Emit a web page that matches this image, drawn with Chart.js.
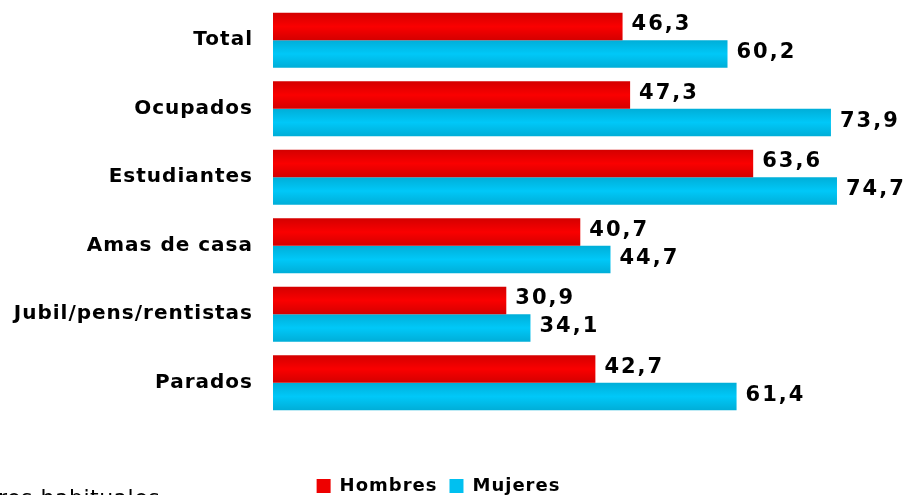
<!DOCTYPE html>
<html>
<head>
<meta charset="utf-8">
<script src="https://cdn.jsdelivr.net/npm/chart.js@4.4.1/dist/chart.umd.min.js"></script>
<style>
  html, body { margin: 0; padding: 0; background: #fff; }
  #wrap { width: 903px; height: 495px; position: relative; }
</style>
</head>
<body>
<div id="wrap"><canvas id="c" width="903" height="495"></canvas></div>
<script>
const categories = ['Total', 'Ocupados', 'Estudiantes', 'Amas de casa', 'Jubil/pens/rentistas', 'Parados'];
const hombres = [46.3, 47.3, 63.6, 40.7, 30.9, 42.7];
const mujeres = [60.2, 73.9, 74.7, 44.7, 34.1, 61.4];
const seriesNames = ['Hombres', 'Mujeres'];
const footText = 'res habituales';

const FONT = "'Comic Sans MS', 'DejaVu Sans', sans-serif";

const gradStops = [
  ['#D40000', '#FA0000', '#D40000'],
  ['#00AED8', '#00C8F8', '#00AED8']
];

const spacingPlugin = {
  id: 'spacing',
  beforeInit(chart) { chart.ctx.letterSpacing = '1px'; },
  beforeUpdate(chart) { chart.ctx.letterSpacing = '1px'; },
  beforeDraw(chart) { chart.ctx.letterSpacing = '1px'; }
};

const gradientPlugin = {
  id: 'barGradient',
  beforeDatasetsDraw(chart) {
    const ctx = chart.ctx;
    chart.data.datasets.forEach((ds, di) => {
      const meta = chart.getDatasetMeta(di);
      meta.data.forEach(el => {
        const top = el.y - el.height / 2;
        const bot = el.y + el.height / 2;
        const g = ctx.createLinearGradient(0, top, 0, bot);
        const s = gradStops[di];
        g.addColorStop(0, s[0]);
        g.addColorStop(0.5, s[1]);
        g.addColorStop(1, s[2]);
        el.options = Object.assign({}, el.options, { backgroundColor: g });
      });
    });
  }
};

const labelPlugin = {
  id: 'valueLabels',
  afterDatasetsDraw(chart) {
    const ctx = chart.ctx;
    ctx.save();
    ctx.letterSpacing = '2px';
    ctx.font = 'bold 21px ' + FONT;
    ctx.fillStyle = '#000';
    ctx.textAlign = 'left';
    ctx.textBaseline = 'middle';
    chart.data.datasets.forEach((ds, di) => {
      const meta = chart.getDatasetMeta(di);
      meta.data.forEach((el, i) => {
        const txt = ds.data[i].toFixed(1).replace('.', ',');
        ctx.fillText(txt, el.x + 9, el.y - (di === 0 ? 2 : 1));
      });
    });
    ctx.restore();
  }
};

const footPlugin = {
  id: 'footText',
  afterDraw(chart) {
    const ctx = chart.ctx;
    ctx.save();
    ctx.letterSpacing = '0.5px';
    ctx.font = '22px ' + FONT;
    ctx.fillStyle = '#000';
    ctx.textAlign = 'left';
    ctx.textBaseline = 'alphabetic';
    ctx.fillText(footText, -2, 505);
    ctx.restore();
  }
};

new Chart(document.getElementById('c'), {
  type: 'bar',
  data: {
    labels: categories,
    datasets: [
      { label: seriesNames[0], data: hombres, backgroundColor: '#EE0000', borderWidth: 0,
        categoryPercentage: 0.8, barPercentage: 1.0 },
      { label: seriesNames[1], data: mujeres, backgroundColor: '#00C0F0', borderWidth: 0,
        categoryPercentage: 0.8, barPercentage: 1.0 }
    ]
  },
  options: {
    indexAxis: 'y',
    responsive: false,
    animation: false,
    devicePixelRatio: 1,
    layout: { padding: { top: 6, right: 26, bottom: -10, left: 0 } },
    scales: {
      x: {
        display: true,
        min: 0,
        max: 80,
        grid: { display: false, drawTicks: false },
        border: { display: false },
        ticks: { display: false },
        afterFit(scale) { scale.height = 48; }
      },
      y: {
        grid: { display: false, drawTicks: false },
        border: { display: false },
        ticks: {
          color: '#000',
          padding: 20,
          font: { family: FONT, size: 20, weight: 'bold' }
        },
        afterFit(scale) {
          scale.width = 273;
          scale.paddingTop = 0;
          scale.paddingBottom = 0;
        }
      }
    },
    plugins: {
      legend: {
        position: 'bottom',
        labels: {
          color: '#000',
          boxWidth: 14,
          boxHeight: 14,
          padding: 12,
          font: { family: FONT, size: 18, weight: 'bold' }
        }
      },
      tooltip: { enabled: false }
    }
  },
  plugins: [spacingPlugin, gradientPlugin, labelPlugin, footPlugin]
});
</script>
</body>
</html>
